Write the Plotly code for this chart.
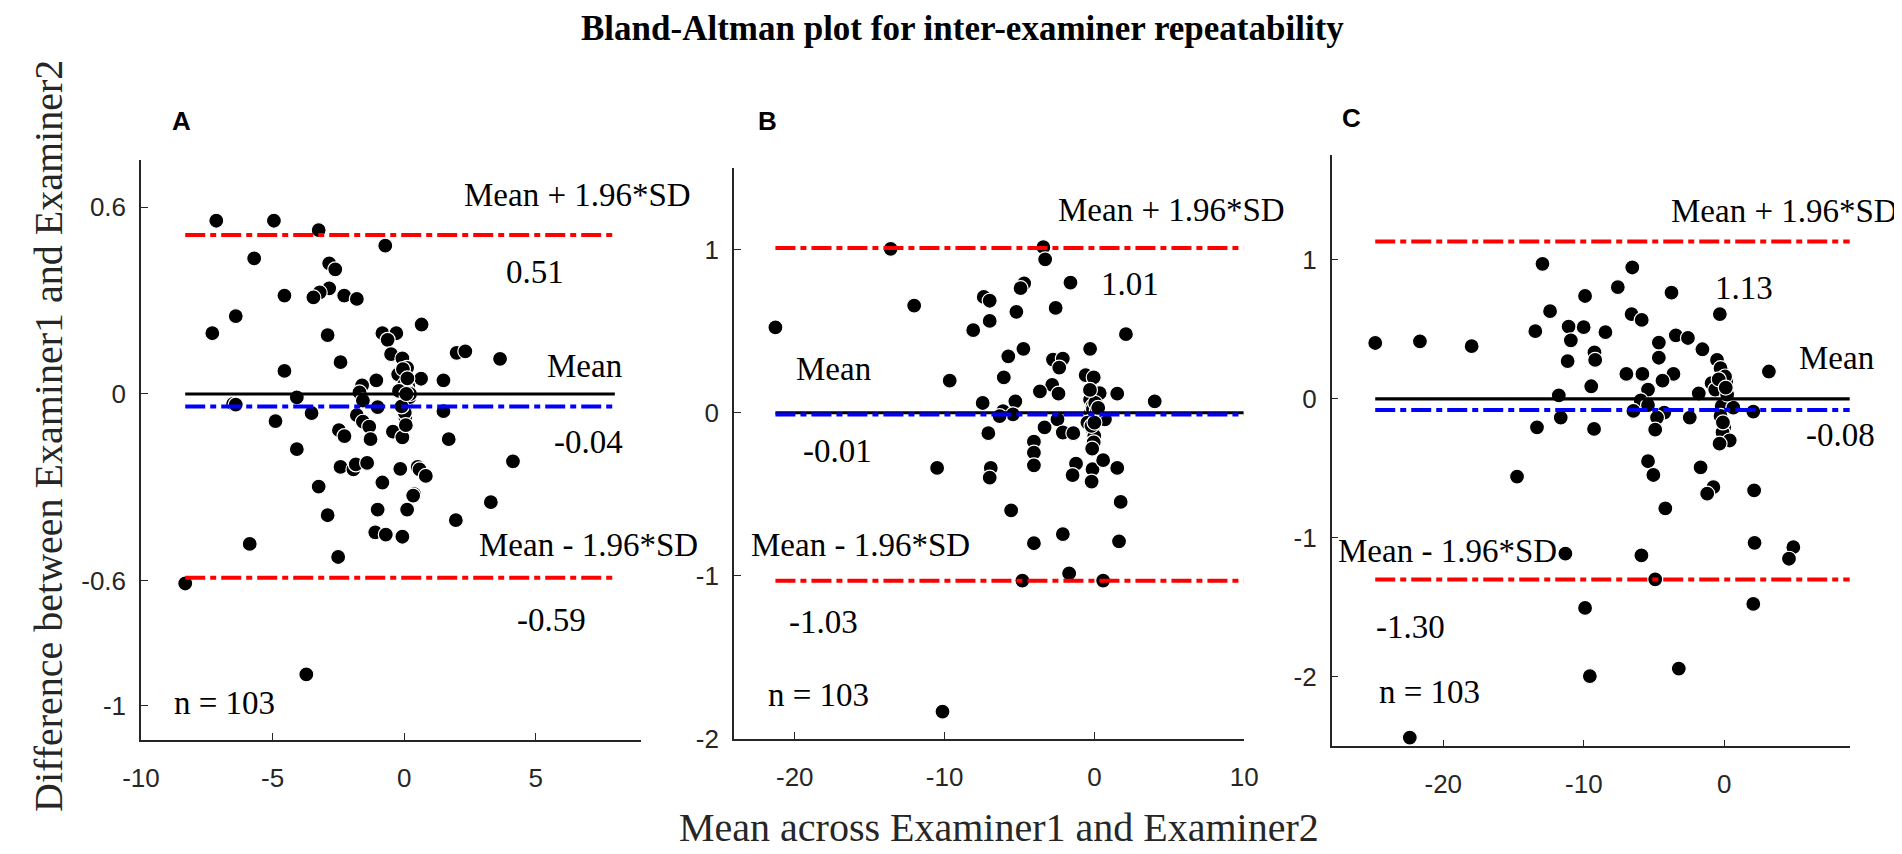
import plotly.graph_objects as go

# panel A: mean of examiners vs difference
a_x = [-7.14, -4.95, -3.25, -0.72, -5.70, -2.85, -2.62, -2.85, -3.21, -3.45, -4.55, -2.28, -1.80,
       -6.40, -7.29, -2.91, 0.66, -0.83, -0.30, -0.63, -0.50, -0.07, 1.99, 2.32, 3.64, -2.42,
       -4.55, -0.23, 0.11, 0.64, 1.49, -1.06, -1.60, -1.70, 0.15, 0.11, 0.15, 0.11, 0.07, 0.04,
       0.04, -6.50, -6.40, -4.08, -3.52, -1.01, -1.57, 1.49, -4.89, -1.80, -1.57, -1.33, -2.48,
       -2.27, -1.28, -0.43, -0.07, 1.69, -4.08, 4.13, -2.42, -1.93, -1.84, -1.41, -0.15, 0.51,
       0.58, 0.82, -0.83, -3.25, 0.38, 0.34, 3.29, 0.11, -1.01, -2.91, 1.96, -1.10, -0.70, -0.07,
       -5.87, -2.51, -8.32, -3.72, 0.00, 0.20, 0.02, -0.05, 0.12, 0.06, -0.20, 0.22, -0.10, 0.08]
a_y = [0.556, 0.556, 0.526, 0.476, 0.435, 0.419, 0.400, 0.339, 0.326, 0.310, 0.316, 0.316, 0.305,
       0.250, 0.195, 0.189, 0.223, 0.195, 0.195, 0.174, 0.128, 0.114, 0.132, 0.137, 0.113, 0.102,
       0.074, 0.063, 0.084, 0.049, 0.044, 0.044, 0.028, 0.005, 0.026, 0.011, -0.005, -0.021, -0.037, -0.053,
       -0.074, -0.032, -0.034, -0.011, -0.061, -0.042, -0.021, -0.055, -0.087, -0.068, -0.089, -0.105, -0.116,
       -0.135, -0.145, -0.121, -0.139, -0.145, -0.177, -0.216, -0.234, -0.242, -0.226, -0.221, -0.240, -0.234,
       -0.242, -0.263, -0.284, -0.297, -0.321, -0.326, -0.347, -0.371, -0.371, -0.389, -0.405, -0.444, -0.451, -0.458,
       -0.481, -0.523, -0.608, -0.900, 0.030, -0.010, -0.060, 0.080, 0.050, -0.100, 0.010, 0.000, -0.040, 0.000]

# panel B
b_x = [-21.29, -13.60, -12.03, -3.41, -3.29, -1.60, -4.69, -4.93, -7.39, -6.99, -5.21, -2.59, -6.99,
       -8.09, 2.10, -4.74, -5.75, -0.29, -2.77, -2.11, -2.35, -9.66, -6.05, -0.59, -0.05, -2.82,
       -3.64, -2.40, 0.35, 1.52, 4.02, -7.46, -5.28, -6.10, -5.44, -6.33, -0.29, -0.13, -0.24, 0.11,
       0.70, -0.47, -0.13, -0.01, -0.05, -2.47, -3.33, -2.11, -1.41, -7.08, -4.04, -4.04, -4.04,
       -10.50, -6.92, -6.99, -1.23, -1.46, -0.13, -0.19, 0.58, 1.52, 1.75, -5.56, -2.11, -4.04,
       1.64, -1.69, -4.81, 0.58, -10.14, -0.10, 0.05, -0.20, 0.15, -0.30, 0.00, 0.25, -0.15]
b_y = [0.523, 1.005, 0.657, 1.015, 0.941, 0.798, 0.794, 0.764, 0.710, 0.687, 0.619, 0.643, 0.563,
       0.507, 0.482, 0.392, 0.346, 0.392, 0.326, 0.332, 0.277, 0.197, 0.217, 0.231, 0.217, 0.171,
       0.131, 0.117, 0.121, 0.117, 0.070, 0.060, 0.070, 0.010, -0.010, -0.020, 0.080, 0.040, 0.000, -0.020,
       -0.040, -0.060, -0.100, -0.141, -0.181, -0.040, -0.090, -0.121, -0.125, -0.125, -0.177, -0.245, -0.322,
       -0.338, -0.338, -0.398, -0.312, -0.382, -0.346, -0.422, -0.291, -0.338, -0.547, -0.599, -0.744, -0.800,
       -0.788, -0.985, -1.029, -1.029, -1.833, 0.020, 0.060, -0.080, 0.010, 0.140, -0.060, 0.030, -0.220]

# panel C
c_x = [-24.84, -21.66, -17.98, -12.94, -6.55, -7.58, -9.91, -3.76, -12.40, -6.60, -5.88, -0.32, -13.45,
       -11.08, -10.01, -8.46, -10.92, -3.45, -2.59, -4.66, -1.56, -9.24, -9.19, -4.66, -11.15, -0.52,
       -0.27, 3.17, -6.97, -5.83, -3.62, -4.40, -9.47, -5.43, -0.91, 0.13, -0.65, -1.82, -11.78, -5.95,
       -5.43, -6.47, -4.27, -4.79, -2.46, -11.64, -0.19, 0.64, 2.06, -0.27, -0.01, -0.13, 0.38, -0.34,
       -13.33, -9.27, -4.92, -14.75, -5.43, -5.05, -1.69, -0.78, -1.22, 2.12, -4.20, -11.31, -5.90,
       2.15, 4.91, 4.60, -4.92, -9.91, 2.06, -9.57, -3.24, -22.38, 0.05, -0.40, 0.20, -0.10, 0.10]
c_y = [0.401, 0.413, 0.378, 0.970, 0.944, 0.803, 0.739, 0.763, 0.630, 0.609, 0.567, 0.609, 0.486,
       0.519, 0.515, 0.479, 0.420, 0.456, 0.437, 0.404, 0.356, 0.333, 0.279, 0.295, 0.271, 0.279,
       0.220, 0.196, 0.179, 0.179, 0.179, 0.130, 0.090, 0.066, 0.113, 0.125, 0.066, 0.038, 0.024, -0.012,
       -0.045, -0.087, -0.099, -0.135, -0.135, -0.135, -0.052, -0.064, -0.092, -0.123, -0.205, -0.241, -0.300, -0.323,
       -0.205, -0.217, -0.222, -0.559, -0.449, -0.548, -0.493, -0.635, -0.682, -0.659, -0.788, -1.114, -1.126,
       -1.036, -1.067, -1.150, -1.298, -1.504, -1.475, -1.994, -1.940, -2.436, 0.160, 0.140, 0.030, -0.170, 0.080]

# mean and limits of agreement per panel
means = [-0.04, -0.01, -0.08]
upper = [0.51, 1.01, 1.13]
lower = [-0.59, -1.03, -1.30]
line_x = [[-8.32, 8.0], [-21.29, 9.95], [-24.84, 8.92]]

x_ranges = [[-10, 9], [-24.06, 10], [-27.94, 8.97]]
y_ranges = [[-1.11, 0.75], [-2.0, 1.5], [-2.5, 1.75]]
x_ticks = [[-10, -5, 0, 5], [-20, -10, 0, 10], [-20, -10, 0]]
y_ticks = [[-1, -0.6, 0, 0.6], [-2, -1, 0, 1], [-2, -1, 0, 1]]
y_ticktext = [["-1", "-0.6", "0", "0.6"], ["-2", "-1", "0", "1"], ["-2", "-1", "0", "1"]]

# pixel boxes of the three axes (figure is 1902 x 854)
W, H = 1902, 854
boxes = [(116, 625, 155, 745), (719.4, 1238.8, 163, 744), (1327.7, 1855.6, 150, 751.7)]

# label positions in data units: (text, x, y)
labels = [
    [("Mean + 1.96*SD", 2.20, 0.637), ("0.51", 3.80, 0.392), ("Mean", 5.35, 0.089),
     ("-0.04", 5.62, -0.153), ("Mean - 1.96*SD", 2.75, -0.484), ("-0.59", 4.19, -0.724),
     ("n = 103", -8.83, -0.99)],
    [("Mean + 1.96*SD", -2.59, 1.246), ("1.01", 0.28, 0.788), ("Mean", -20.04, 0.271),
     ("-0.01", -19.57, -0.232), ("Mean - 1.96*SD", -23.02, -0.809), ("-1.03", -20.5, -1.281),
     ("n = 103", -21.92, -1.729)],
    [("Mean + 1.96*SD", -3.94, 1.348), ("1.13", -0.78, 0.798), ("Mean", 5.17, 0.29),
     ("-0.08", 5.69, -0.264), ("Mean - 1.96*SD", -27.6, -1.096), ("-1.30", -24.93, -1.64),
     ("n = 103", -24.71, -2.106)],
]
panel_letters = [("A", 157.6, 115), ("B", 753.6, 115), ("C", 1347.4, 112)]

xs = [a_x, b_x, c_x]
ys = [a_y, b_y, c_y]

serif = "Liberation Serif, Times New Roman, serif"
sans = "Liberation Sans, Arial, sans-serif"
axis_col = "#262626"
dashdot = "20px,5px,6px,5px"

fig = go.Figure()
layout = dict(width=W, height=H, autosize=False, margin=dict(l=0, r=0, t=0, b=0),
              plot_bgcolor="white", paper_bgcolor="white", showlegend=False)
annotations = []

for i in range(3):
    sfx = "" if i == 0 else str(i + 1)
    xa, ya = "x" + sfx, "y" + sfx
    fig.add_trace(go.Scatter(x=xs[i], y=ys[i], mode="markers", xaxis=xa, yaxis=ya,
                             marker=dict(color="black", size=15, line=dict(color="white", width=1.2))))
    fig.add_trace(go.Scatter(x=line_x[i], y=[0, 0], mode="lines", xaxis=xa, yaxis=ya,
                             line=dict(color="black", width=3.2)))
    fig.add_trace(go.Scatter(x=line_x[i], y=[means[i], means[i]], mode="lines", xaxis=xa, yaxis=ya,
                             line=dict(color="#0000ff", width=4, dash=dashdot)))
    for v in (upper[i], lower[i]):
        fig.add_trace(go.Scatter(x=line_x[i], y=[v, v], mode="lines", xaxis=xa, yaxis=ya,
                                 line=dict(color="#ff0000", width=4, dash=dashdot)))

    x0, x1, y0, y1 = boxes[i]
    common = dict(showline=True, linecolor=axis_col, linewidth=1.5, ticks="inside", ticklen=7,
                  tickcolor=axis_col, tickwidth=1.2, showgrid=False, zeroline=False,
                  tickfont=dict(family=sans, size=26, color=axis_col))
    layout["xaxis" + sfx] = dict(common, domain=[x0 / W, x1 / W], range=x_ranges[i],
                                 tickvals=x_ticks[i], ticktext=[str(t) for t in x_ticks[i]],
                                 anchor=ya, ticklabelstandoff=14)
    layout["yaxis" + sfx] = dict(common, domain=[1 - y1 / H, 1 - y0 / H], range=y_ranges[i],
                                 tickvals=y_ticks[i], ticktext=y_ticktext[i],
                                 anchor=xa, ticklabelstandoff=8)

    for text, tx, ty in labels[i]:
        annotations.append(dict(text=text, x=tx, y=ty, xref=xa, yref=ya, xanchor="left",
                                yanchor="middle", showarrow=False,
                                font=dict(family=serif, size=33, color="black")))
    letter, lx, ly = panel_letters[i]
    annotations.append(dict(text="<b>" + letter + "</b>", x=lx / W, y=1 - ly / H, xref="paper",
                            yref="paper", showarrow=False, xanchor="center", yanchor="middle",
                            font=dict(family=sans, size=26, color="black")))

annotations.append(dict(text="<b>Bland-Altman plot for inter-examiner repeatability</b>",
                        x=0.5005, y=1 - 21 / H, xref="paper", yref="paper", showarrow=False,
                        xanchor="center", yanchor="middle",
                        font=dict(family=serif, size=35, color="black")))
annotations.append(dict(text="Mean across Examiner1 and Examiner2", x=988.7 / W, y=1 - 834 / H,
                        xref="paper", yref="paper", showarrow=False, xanchor="center",
                        yanchor="middle", font=dict(family=serif, size=40, color=axis_col)))
annotations.append(dict(text="Difference between Examiner1 and Examiner2", x=22 / W, y=1 - 436 / H,
                        xref="paper", yref="paper", showarrow=False, xanchor="center",
                        yanchor="middle", textangle=-90,
                        font=dict(family=serif, size=40, color=axis_col)))

layout["annotations"] = annotations
fig.update_layout(**layout)
fig.write_html("out.html")
